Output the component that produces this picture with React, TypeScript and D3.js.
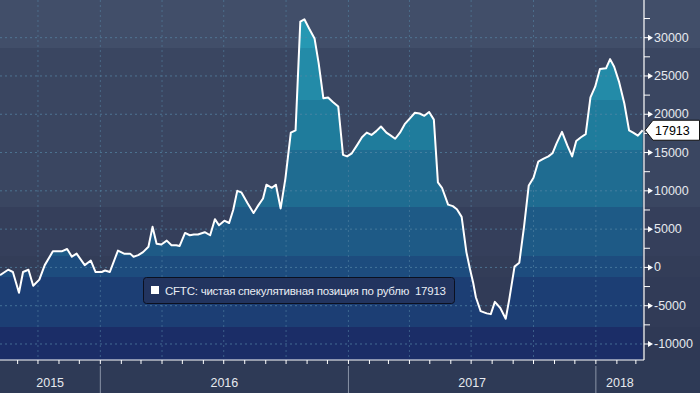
import { useMemo } from "react";
import * as d3 from "d3";

// weekly CFTC net speculative position in the rouble (contracts)
const dates = [
  "2015-08-06", "2015-08-18", "2015-08-25", "2015-09-03", "2015-09-09", "2015-09-17",
  "2015-09-24", "2015-10-03", "2015-10-11", "2015-10-23", "2015-11-05", "2015-11-13",
  "2015-11-20", "2015-11-27", "2015-12-09", "2015-12-18", "2015-12-25", "2016-01-03",
  "2016-01-08", "2016-01-15", "2016-01-27", "2016-02-05", "2016-02-14", "2016-02-19",
  "2016-02-26", "2016-03-04", "2016-03-12", "2016-03-18", "2016-03-24", "2016-03-31",
  "2016-04-08", "2016-04-15", "2016-04-22", "2016-04-27", "2016-05-05", "2016-05-12",
  "2016-05-18", "2016-05-24", "2016-06-03", "2016-06-11", "2016-06-18", "2016-06-24",
  "2016-07-02", "2016-07-09", "2016-07-15", "2016-07-21", "2016-07-27", "2016-08-05",
  "2016-08-14", "2016-08-21", "2016-08-28", "2016-09-02", "2016-09-10", "2016-09-16",
  "2016-09-23", "2016-09-30", "2016-10-08", "2016-10-15", "2016-10-22", "2016-10-28",
  "2016-11-04", "2016-11-12", "2016-11-18", "2016-11-25", "2016-12-02", "2016-12-09",
  "2016-12-17", "2016-12-24", "2016-12-30", "2017-01-06", "2017-01-14", "2017-01-21",
  "2017-01-28", "2017-02-04", "2017-02-11", "2017-02-18", "2017-02-26", "2017-03-03",
  "2017-03-11", "2017-03-18", "2017-03-25", "2017-04-02", "2017-04-09", "2017-04-16",
  "2017-04-23", "2017-04-30", "2017-05-07", "2017-05-13", "2017-05-19", "2017-05-28",
  "2017-06-04", "2017-06-10", "2017-06-17", "2017-06-24", "2017-06-29", "2017-07-04",
  "2017-07-08", "2017-07-15", "2017-07-24", "2017-07-30", "2017-08-05", "2017-08-13",
  "2017-08-21", "2017-08-26", "2017-09-03", "2017-09-10", "2017-09-17", "2017-09-24",
  "2017-10-01", "2017-10-08", "2017-10-16", "2017-10-23", "2017-10-29", "2017-11-04",
  "2017-11-12", "2017-11-20", "2017-11-27", "2017-12-03", "2017-12-10", "2017-12-17",
  "2017-12-24", "2017-12-31", "2018-01-07", "2018-01-16", "2018-01-22", "2018-01-28",
  "2018-02-04", "2018-02-12", "2018-02-19", "2018-02-25", "2018-03-04", "2018-03-11",
];

const values = [
  -1000, -300, -600, -3300, -600, -300,
  -2400, -1600, 300, 2100, 2100, 2400,
  1400, 1800, 300, 900, -600, -600,
  -400, -600, 2200, 1800, 1800, 1400,
  1600, 2000, 2700, 5300, 3100, 3000,
  3500, 2900, 2900, 2800, 4500, 4200,
  4300, 4300, 4600, 4200, 6300, 5500,
  6100, 5800, 7500, 10000, 9800, 8400,
  7100, 8100, 9000, 10800, 10400, 10800,
  7700, 11600, 17600, 17900, 32100, 32400,
  31200, 29900, 26700, 22100, 22200, 21600,
  21000, 14700, 14500, 14900, 16000, 17000,
  17600, 17300, 17800, 18400, 17600, 17300,
  16800, 17600, 18700, 19500, 20200, 20100,
  19800, 20300, 19300, 11100, 10400, 8200,
  8000, 7600, 6600, 2000, -100, -2000,
  -3900, -5700, -6000, -6100, -4500, -5300,
  -6700, -4300, 100, 600, 5300, 10700,
  11700, 13800, 14200, 14500, 14900, 16200,
  17700, 15900, 14500, 16500, 17000, 17400,
  22200, 23600, 25900, 26000, 27200, 26200,
  24300, 21400, 17900, 17600, 17200, 17913,
];

const yTicks = [-10000, -5000, 0, 5000, 10000, 15000, 20000, 25000, 30000];
const yMinorTicks = [-7500, -2500, 2500, 7500, 12500, 17500, 22500, 27500, 32500];
const legendLabel = "CFTC: чистая спекулятивная позиция по рублю";
const lastLabel = "17913";

const W = 700;
const H = 393;
const plotRight = 644;
const plotBottom = 360;
const font = "'Liberation Sans', Arial, sans-serif";

// banded background and area fill, Bloomberg style
const bgBands: [number, string][] = [
  [0, "#414e69"], [48, "#3a4661"], [207, "#353f5b"], [256, "#333d58"],
  [277, "#313b57"], [327, "#2f3955"], [360, "#2d3953"],
];
const fillBands: [number, string][] = [
  [0, "#2698b3"], [48, "#238ba8"], [100, "#1f7c9c"], [150, "#1f6c91"],
  [207, "#1e5a86"], [256, "#1d4c7e"], [277, "#1c3e74"], [327, "#1b2d67"],
];

const stepStops = (bands: [number, string][], total: number) =>
  bands.flatMap(([y0, c], i) => {
    const y1 = i < bands.length - 1 ? bands[i + 1][0] : total;
    return [
      <stop key={i + "a"} offset={y0 / total} stopColor={c} />,
      <stop key={i + "b"} offset={y1 / total} stopColor={c} />,
    ];
  });

const App = () => {
  const parse = d3.timeParse("%Y-%m-%d");
  const data = useMemo(
    () => dates.map((d, i) => ({ date: parse(d) as Date, value: values[i] })),
    []
  );

  const x = d3
    .scaleTime()
    .domain([new Date(2015, 7, 6), new Date(2018, 2, 13)])
    .range([0, plotRight]);
  const y = d3.scaleLinear().domain([-12090, 34920]).range([plotBottom, 0]);

  const area = d3
    .area<{ date: Date; value: number }>()
    .x((d) => x(d.date))
    .y0(plotBottom)
    .y1((d) => y(d.value));
  const line = d3
    .line<{ date: Date; value: number }>()
    .x((d) => x(d.date))
    .y((d) => y(d.value));

  const [d0, d1] = x.domain();
  const months = d3.timeMonth.range(d3.timeMonth.ceil(d0), d1);
  const quarters = months.filter((m) => m.getMonth() % 3 === 0);
  const yearStarts = d3.timeYear.range(d3.timeYear.ceil(d0), d1);
  const yearEdges = [d0, ...yearStarts, d1];
  const years = yearEdges.slice(0, -1).map((s, i) => ({
    label: String(s.getFullYear()),
    cx: (x(s) + x(yearEdges[i + 1])) / 2,
  }));

  const lastY = y(values[values.length - 1]);

  return (
    <svg
      width={W}
      height={H}
      style={{ position: "absolute", left: 0, top: 0, display: "block" }}
    >
      <defs>
        <linearGradient id="bg" gradientUnits="userSpaceOnUse" x1="0" y1="0" x2="0" y2={H}>
          {stepStops(bgBands, H)}
        </linearGradient>
        <linearGradient id="fill" gradientUnits="userSpaceOnUse" x1="0" y1="0" x2="0" y2={plotBottom}>
          {stepStops(fillBands, plotBottom)}
        </linearGradient>
        <clipPath id="plot">
          <rect x={0} y={0} width={plotRight} height={plotBottom} />
        </clipPath>
      </defs>

      <rect x={0} y={0} width={W} height={H} fill="url(#bg)" />
      <rect x={0} y={plotBottom} width={W} height={H - plotBottom} fill="#2e3a56" />

      <g clipPath="url(#plot)">
        <path d={area(data) ?? ""} fill="url(#fill)" />
        {yTicks.map((t) => (
          <line
            key={t}
            x1={0}
            x2={plotRight}
            y1={y(t)}
            y2={y(t)}
            stroke="#5587a6"
            strokeOpacity={0.7}
            strokeDasharray="2,3"
          />
        ))}
        {quarters.map((q) => (
          <line
            key={+q}
            x1={x(q)}
            x2={x(q)}
            y1={0}
            y2={plotBottom}
            stroke="#5587a6"
            strokeOpacity={0.55}
            strokeDasharray="2,3"
          />
        ))}
        <path
          d={line(data) ?? ""}
          fill="none"
          stroke="#ffffff"
          strokeWidth={2}
          strokeLinejoin="round"
        />
      </g>

      {/* bottom axis */}
      <line x1={0} x2={plotRight} y1={plotBottom} y2={plotBottom} stroke="#ffffff" strokeWidth={1} />
      {months.map((m) => (
        <line
          key={+m}
          x1={x(m)}
          x2={x(m)}
          y1={plotBottom}
          y2={plotBottom + 4}
          stroke="#ffffff"
        />
      ))}
      {yearStarts.map((s) => (
        <line
          key={+s}
          x1={x(s)}
          x2={x(s)}
          y1={plotBottom + 6}
          y2={H}
          stroke="#8a93a6"
        />
      ))}
      {years.map((yr) => (
        <text
          key={yr.label}
          x={yr.cx}
          y={383}
          textAnchor="middle"
          dominantBaseline="central"
          fontFamily={font}
          fontSize={12.5}
          fill="#e6e9ee"
        >
          {yr.label}
        </text>
      ))}

      {/* right axis */}
      <line x1={plotRight} x2={plotRight} y1={0} y2={plotBottom} stroke="#ffffff" strokeWidth={1.2} />
      {yMinorTicks.map((t) => (
        <line key={t} x1={plotRight} x2={plotRight + 6} y1={y(t)} y2={y(t)} stroke="#ffffff" />
      ))}
      {yTicks.map((t) => (
        <g key={t}>
          <line x1={plotRight} x2={plotRight + 5} y1={y(t)} y2={y(t)} stroke="#ffffff" />
          <path
            d={`M${plotRight + 4},${y(t) - 3}L${plotRight + 9},${y(t)}L${plotRight + 4},${y(t) + 3}Z`}
            fill="#ffffff"
          />
          <text
            x={plotRight + 10}
            y={y(t)}
            dominantBaseline="central"
            fontFamily={font}
            fontSize={12.5}
            fill="#e6e9ee"
          >
            {t}
          </text>
        </g>
      ))}

      {/* last value marker */}
      <path
        d={`M${plotRight + 1},${lastY}L${plotRight + 9},${lastY - 10}H${W - 0.5}V${lastY + 10}H${plotRight + 9}Z`}
        fill="#ffffff"
        stroke="#111111"
        strokeWidth={1}
      />
      <text
        x={plotRight + 11}
        y={lastY + 0.5}
        dominantBaseline="central"
        fontFamily={font}
        fontSize={12.5}
        fill="#000000"
      >
        {lastLabel}
      </text>

      {/* legend */}
      <rect x={143.5} y={277.5} width={311} height={26} rx={3} fill="#22345f" stroke="#0b1020" />
      <rect x={151} y={286} width={8} height={8} fill="#ffffff" />
      <text
        x={165}
        y={290.5}
        dominantBaseline="central"
        fontFamily={font}
        fontSize={11.5}
        fill="#e8edf4"
        textLength={281}
        lengthAdjust="spacing"
        style={{ whiteSpace: "pre" }}
      >
        {legendLabel + "  " + lastLabel}
      </text>
    </svg>
  );
};

export default App;
